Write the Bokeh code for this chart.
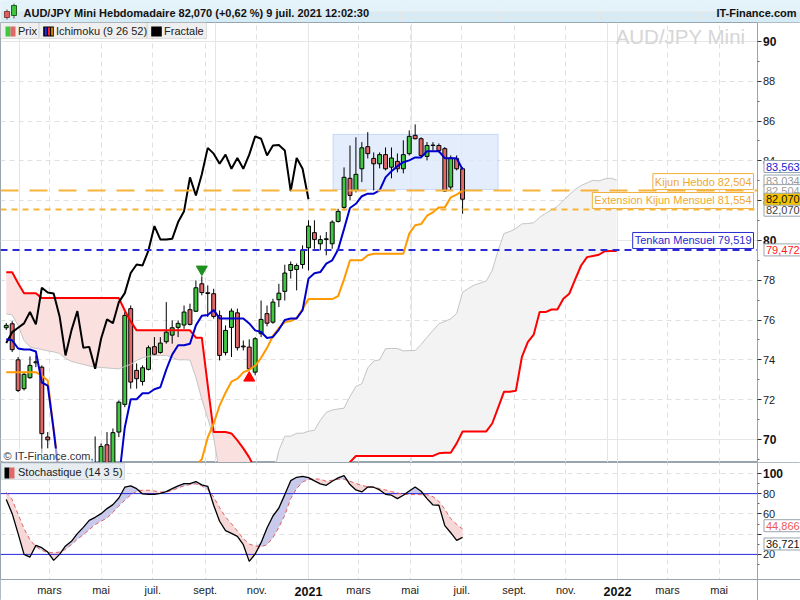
import numpy as np
import pandas as pd
from bokeh.plotting import figure
from bokeh.layouts import column
from bokeh.models import Range1d, FixedTicker, Grid, Label, BoxAnnotation, ColumnDataSource
from bokeh.core.properties import value
from bokeh.embed import file_html
from bokeh.resources import INLINE

FONT = "Liberation Sans"

# ---------------- texts ----------------
title_text = "AUD/JPY Mini Hebdomadaire 82,070 (+0,62 %) 9 juil. 2021 12:02:30"
site_text = "IT-Finance.com"
watermark_text = "AUD/JPY Mini"
copyright_text = "\u00a9 IT-Finance.com,"
legend_main = ["Prix", "Ichimoku (9 26 52)", "Fractale"]
legend_stoch = "Stochastique (14 3 5)"

# ---------------- weekly candles (AUD/JPY) ----------------
first_week = "2020-01-10"
opens = [75.61, 75.81, 74.00, 72.55, 73.10, 73.85, 73.63, 70.12, 68.70, 66.50,
         62.30, 66.00, 65.00, 68.30, 68.50, 68.40, 68.50, 69.73, 68.70, 70.37,
         71.76, 76.57, 73.47, 72.91, 73.52, 74.66, 74.37, 74.91, 75.24, 75.63,
         75.75, 76.52, 76.44, 77.82, 77.37, 77.32, 76.22, 74.36, 75.63, 76.36,
         74.69, 74.64, 73.38, 75.31, 76.32, 75.89, 77.02, 77.44, 78.49, 78.54,
         78.79, 79.63, 80.39, 79.83, 80.05, 79.83, 80.95, 81.66, 83.12, 82.51,
         83.60, 84.71, 84.12, 83.85, 84.31, 83.68, 83.97, 83.60, 84.36, 85.28,
         85.11, 84.22, 84.77, 84.77, 84.61, 82.68, 84.11, 83.60]
highs = [75.85, 75.94, 74.14, 73.38, 74.17, 74.22, 73.72, 70.37, 68.85, 68.00,
         67.00, 66.80, 68.80, 68.80, 68.80, 70.15, 69.80, 70.37, 70.55, 71.96,
         76.40, 76.73, 73.82, 73.72, 74.72, 75.14, 75.14, 76.90, 75.98, 75.98,
         76.73, 76.82, 77.99, 78.19, 77.74, 77.57, 76.48, 75.73, 76.58, 76.57,
         74.97, 75.03, 75.14, 76.98, 76.73, 77.07, 77.82, 78.78, 78.94, 78.84,
         79.75, 81.01, 81.01, 80.25, 80.42, 81.01, 81.59, 83.67, 84.77, 85.18,
         84.94, 85.44, 84.42, 84.42, 84.67, 84.67, 84.37, 85.03, 85.53, 85.83,
         85.18, 84.94, 84.94, 84.87, 84.69, 84.27, 84.27, 83.68]
lows = [75.50, 74.39, 72.38, 72.46, 73.05, 73.63, 69.30, 69.55, 65.00, 59.90,
        61.50, 64.00, 64.80, 67.50, 67.30, 67.90, 67.90, 68.30, 68.50, 70.12,
        71.62, 72.55, 72.55, 72.71, 73.47, 74.22, 74.31, 74.81, 74.81, 75.14,
        75.56, 75.73, 76.40, 77.24, 76.15, 76.07, 73.97, 74.22, 74.14, 74.47,
        74.47, 73.47, 73.22, 75.14, 75.68, 75.81, 76.65, 76.98, 78.08, 77.49,
        78.58, 78.49, 79.58, 79.50, 79.25, 79.58, 80.90, 81.51, 82.01, 82.41,
        82.93, 84.12, 82.51, 83.62, 83.52, 83.12, 83.42, 83.37, 84.27, 85.08,
        84.17, 84.02, 84.52, 84.42, 82.43, 82.51, 83.52, 81.34]
closes = [75.73, 74.51, 72.46, 73.27, 73.72, 73.90, 70.29, 69.98, 66.90, 62.50,
          66.30, 65.20, 68.30, 68.50, 67.80, 68.50, 69.65, 68.60, 70.34, 71.87,
          76.23, 72.88, 73.05, 73.60, 74.61, 74.28, 74.84, 75.39, 75.61, 75.83,
          76.40, 75.78, 77.62, 77.38, 77.33, 76.18, 74.22, 75.48, 76.45, 74.61,
          74.65, 73.55, 75.06, 76.03, 75.84, 76.90, 77.35, 78.36, 78.79, 78.74,
          79.50, 80.72, 80.05, 80.04, 80.08, 80.92, 81.46, 83.17, 82.26, 83.32,
          84.65, 84.36, 83.85, 84.31, 83.60, 84.14, 83.60, 84.31, 85.23, 85.11,
          84.27, 84.77, 84.79, 84.52, 82.48, 84.14, 83.60, 82.07]

# ---------------- Ichimoku (9 26 52) ----------------
tenkan = [75.03, 74.98, 74.57, 74.52, 74.52, 74.42, 72.86, 72.70, 70.47, 67.92,
          67.06, 67.06, 67.06, 67.06, 66.81, 65.14, 65.03, 65.14, 66.03, 67.98,
          70.60, 72.02, 72.02, 72.32, 72.32, 72.52, 72.62, 73.51, 74.26, 74.73,
          74.73, 74.81, 75.73, 76.21, 76.25, 76.50, 76.08, 76.08, 76.08, 76.08,
          76.08, 75.83, 75.48, 75.40, 75.10, 75.15, 75.52, 76.00, 76.08, 76.08,
          76.49, 78.08, 78.35, 78.41, 78.83, 79.00, 79.54, 80.58, 81.63, 81.84,
          82.22, 82.35, 82.35, 82.51, 83.17, 83.48, 83.73, 83.93, 84.02, 84.17,
          84.17, 84.48, 84.48, 84.48, 84.13, 84.13, 84.13, 83.56]
kijun = [73.38, 73.38, 73.38, 73.38, 73.38, 73.38, 73.20, 72.96, 70.50, 68.20,
         68.20, 68.20, 68.20, 68.20, 68.20, 68.20, 68.20, 68.20, 68.20, 68.20,
         68.30, 68.30, 68.30, 68.30, 68.30, 68.30, 68.30, 68.40, 68.40, 68.40,
         68.40, 68.40, 68.70, 69.00, 70.10, 70.80, 71.70, 72.35, 72.90, 73.05,
         73.37, 73.50, 73.70, 74.10, 74.60, 75.20, 75.60, 75.90, 75.95, 76.10,
         76.55, 77.05, 77.05, 77.05, 77.05, 77.05, 77.20, 78.04, 79.00, 79.00,
         79.00, 79.25, 79.33, 79.33, 79.33, 79.33, 79.33, 79.33, 80.34, 80.76,
         80.82, 81.24, 81.41, 81.66, 81.66, 82.16, 82.30, 82.50]
senkou_a = [76.31, 76.26, 75.73, 74.97, 74.65, 74.57, 74.52, 74.45, 74.40, 74.32,
            74.07, 73.92, 73.84, 73.77, 73.69, 73.63, 73.62, 73.59, 73.57, 73.54,
            73.67, 73.77, 73.97, 74.10, 74.17, 74.22, 74.22, 74.22, 74.12, 74.00,
            74.00, 73.99, 73.12, 72.01, 71.06, 70.10, 68.30, 67.60, 67.60, 67.60,
            67.50, 66.70, 66.60, 66.60, 67.20, 68.10, 69.45, 70.16, 70.16, 70.31,
            70.31, 70.41, 70.46, 70.96, 71.36, 71.48, 71.53, 71.57, 72.16, 72.66,
            72.80, 73.59, 73.94, 74.00, 74.56, 74.57, 74.57, 74.45, 74.46, 74.47,
            74.77, 75.13, 75.48, 75.81, 75.93, 76.06, 76.33, 77.39, 77.59, 77.76,
            77.86, 77.96, 78.49, 79.50, 80.35, 80.45, 80.60, 80.83, 80.85, 80.89,
            81.16, 81.36, 81.53, 81.71, 82.01, 82.29, 82.56, 82.76, 82.89, 83.02,
            82.99, 83.09, 83.13, 83.03]
senkou_b = [78.40, 78.40, 77.85, 77.35, 77.35, 77.35, 77.10, 77.10, 77.10, 77.10,
            77.10, 77.10, 77.10, 77.10, 77.10, 77.10, 77.10, 77.10, 77.10, 77.10,
            76.48, 75.93, 75.48, 75.48, 75.48, 75.48, 75.48, 75.48, 75.48, 75.48,
            75.48, 75.48, 75.11, 75.11, 72.71, 70.37, 70.37, 70.37, 70.30, 69.95,
            69.55, 69.10, 68.50, 68.50, 68.50, 68.50, 68.50, 68.50, 68.50, 68.50,
            68.50, 68.50, 68.50, 68.50, 68.50, 68.50, 68.50, 68.50, 68.86, 69.17,
            69.17, 69.17, 69.17, 69.17, 69.17, 69.17, 69.17, 69.17, 69.17, 69.17,
            69.17, 69.17, 69.17, 69.30, 69.33, 69.33, 69.80, 70.40, 70.40, 70.40,
            70.40, 70.40, 70.80, 71.60, 72.40, 72.40, 72.45, 74.13, 74.89, 75.26,
            76.40, 76.40, 76.53, 76.53, 77.07, 77.32, 78.04, 78.74, 79.16, 79.22,
            79.28, 79.46, 79.47, 79.47]
chikou_shift = 26

# ---------------- Fractals ----------------
fractal_high_dates = ["2020-08-28"]
fractal_low_dates = ["2020-10-23"]

# ---------------- Stochastic (14 3 5) ----------------
stoch_k = [74.1, 60.2, 40.5, 20.0, 17.4, 28.9, 26.6, 22.3, 14.1, 20.0,
           28.3, 32.9, 40.5, 46.7, 53.6, 56.6, 60.2, 65.2, 69.1, 75.7,
           86.3, 87.6, 84.9, 79.7, 79.3, 79.3, 80.3, 82.0, 84.9, 87.6,
           89.9, 89.9, 91.9, 88.6, 87.2, 68.5, 52.7, 43.4, 40.8, 37.8,
           29.6, 13.1, 20.4, 31.6, 46.1, 57.9, 65.8, 79.0, 92.8, 96.1,
           97.1, 95.8, 92.5, 89.6, 88.2, 92.2, 95.5, 97.8, 88.9, 83.6,
           81.6, 86.6, 86.3, 83.6, 79.3, 78.4, 75.1, 78.4, 82.6, 86.6,
           82.3, 75.1, 68.8, 68.5, 48.4, 41.4, 33.9, 36.72]
stoch_d = [81.3, 74.1, 59.6, 45.4, 34.5, 27.6, 24.0, 21.7, 21.7, 22.3,
           25.0, 29.6, 34.9, 39.5, 44.4, 49.4, 52.7, 55.9, 61.5, 67.8,
           73.4, 78.7, 82.3, 83.3, 83.3, 82.6, 81.6, 81.6, 83.0, 85.6,
           87.6, 88.9, 89.6, 87.6, 84.0, 76.7, 66.2, 56.9, 50.3, 43.1,
           35.5, 30.2, 28.3, 27.6, 29.6, 36.5, 46.7, 58.6, 75.1, 84.9,
           91.5, 93.8, 94.5, 94.2, 92.2, 93.2, 94.2, 94.2, 92.2, 89.9,
           88.2, 86.6, 86.6, 84.9, 83.6, 82.0, 80.7, 79.3, 79.0, 79.0,
           79.0, 79.0, 77.0, 72.4, 64.5, 55.3, 49.7, 44.87]
stoch_levels = [20, 80]

# ---------------- levels / annotations ----------------
level_kijun_hebdo = 82.504
level_ext_kijun_mensuel = 81.554
level_tenkan_mensuel = 79.519
zone_start, zone_end = "2021-01-30", "2021-08-13"
zone_low, zone_high = 82.56, 85.33
last_tenkan, last_ssa, last_kijun, last_close, last_ssb = 83.563, 83.034, 82.504, 82.070, 79.472
last_k, last_d = 36.721, 44.866

# ---------------- axes ----------------
x_start, x_axis = "2020-01-03 04:48", "2022-06-14 18:00"
month_ticks = ["2020-03-01", "2020-05-01", "2020-07-01", "2020-09-01", "2020-11-01",
               "2021-01-01", "2021-03-01", "2021-05-01", "2021-07-01", "2021-09-01",
               "2021-11-01", "2022-01-01", "2022-03-01", "2022-05-01"]
month_labels = ["mars", "mai", "juil.", "sept.", "nov.", "2021", "mars", "mai",
                "juil.", "sept.", "nov.", "2022", "mars", "mai"]
year_ticks = ["2021-01-01", "2022-01-01"]
price_ticks = [70, 72, 74, 76, 78, 80, 82, 84, 86, 88, 90]
price_minor = [69, 71, 73, 75, 77, 79, 81, 83, 85, 87, 89, 91]
price_bold = [70, 80, 90]
price_range = (68.84, 90.95)
stoch_ticks = [20, 40, 60, 80, 100]
stoch_minor = [10, 30, 50, 70, 90]
stoch_hidden = [40, 100]
stoch_panel_bottom = -4.7
stoch_range = (-25.5, 110.7)


def ms(d):
    return pd.Timestamp(d).value / 1e6


week_ms = [ms(d) for d in pd.date_range(first_week, periods=len(closes), freq="7D")]
cloud_ms = [ms(d) for d in pd.date_range(first_week, periods=len(senkou_a), freq="7D")]
tick_ms = [ms(d) for d in month_ticks]
year_ms = [ms(d) for d in year_ticks]
GREEN, RED = "#40c840", "#e06868"
GRID = "#e0e0e0"
FRAME = "#98a4ae"

W = 800
AX = 756.5            # axis position (px from left)
HH, MH, SH = 22, 440, 138
SBAND = 21            # x-axis label band at the bottom of the stochastic panel
XS = ms(x_start)
XA = ms(x_axis)
XE = XS + (XA - XS) * W / AX


def label(fig, text, x, y, xu="screen", yu="screen", size="11px", color="#222222",
          align="left", baseline="middle", bold=False, bg=None, border=None, pad=0,
          yoff=0, bg_alpha=1.0):
    fig.add_layout(Label(text=text, x=x, y=y, x_units=xu, y_units=yu, text_font=FONT,
                         text_font_size=size, text_color=color, text_align=align,
                         text_baseline=baseline, text_font_style="bold" if bold else "normal",
                         y_offset=yoff, background_fill_color=bg, background_fill_alpha=bg_alpha,
                         border_line_color=border, padding=pad))


def sbox(fig, l, r, b, t, fill, line=None, level="annotation"):
    fig.add_layout(BoxAnnotation(left=l, right=r, bottom=b, top=t, left_units="screen",
                                 right_units="screen", bottom_units="screen", top_units="screen",
                                 fill_color=fill, fill_alpha=1.0, line_color=line, line_width=1,
                                 level=level))


def style_axis(ax):
    ax.axis_line_color = FRAME
    ax.major_tick_line_color = "#333333"
    ax.minor_tick_line_color = "#666666"
    ax.major_tick_out = 4
    ax.major_tick_in = 0
    ax.minor_tick_out = 2
    ax.minor_tick_in = 0
    ax.major_label_standoff = 2
    ax.major_label_text_font = FONT
    ax.major_label_text_font_size = "11px"
    ax.major_label_text_color = "#222222"


def fr(v):
    return f"{v:.3f}".replace(".", ",")


# ================= header =================
h = figure(width=W, height=HH, x_range=Range1d(0, W), y_range=Range1d(0, HH),
           x_axis_location=None, y_axis_location=None, toolbar_location=None,
           output_backend="svg", min_border=0, outline_line_color=None,
           background_fill_color="#d5ebf6", border_fill_color="#d5ebf6")
h.quad(left=[0], right=[W], bottom=[11], top=[HH], fill_color="#e4f2fa", line_color=None)
h.segment(x0=[6.5, 13.5], y0=[3, 4], x1=[6.5, 13.5], y1=[13, 19], line_color="#555555")
h.quad(left=[4], right=[9], bottom=[5], top=[11], fill_color="#e06060", line_color="#804040")
h.quad(left=[11], right=[16], bottom=[7], top=[17], fill_color="#3fc43f", line_color="#206020")
h.text(x=[23], y=[9.5], text=[title_text], text_font=value(FONT), text_font_size="11px",
       text_font_style="bold", text_baseline="middle", text_color="#111111")
h.text(x=[W - 4], y=[9.5], text=[site_text], text_font=value(FONT), text_font_size="11px",
       text_font_style="bold", text_baseline="middle", text_align="right", text_color="#111111")

# ================= main price panel =================
p = figure(width=W, height=MH, x_range=Range1d(XS, XE), y_range=Range1d(*price_range),
           x_axis_location=None, y_axis_location="right", toolbar_location=None,
           output_backend="svg", min_border=0, background_fill_color="white",
           border_fill_color="white", outline_line_color=FRAME)

ya = p.yaxis[0]
ya.fixed_location = XA
ya.ticker = FixedTicker(ticks=price_ticks, minor_ticks=price_minor)
ya.major_label_overrides = {t: "" for t in price_bold}
style_axis(ya)

p.ygrid[0].ticker = FixedTicker(ticks=[t for t in price_ticks if t not in price_bold])
p.ygrid[0].grid_line_color = GRID
p.ygrid[0].grid_line_dash = "5 4"
p.add_layout(Grid(dimension=1, ticker=FixedTicker(ticks=price_bold), grid_line_color="#e6e6e6"))
p.add_layout(Grid(dimension=0, ticker=FixedTicker(ticks=[t for t in tick_ms if t not in year_ms]),
                  grid_line_color=GRID, grid_line_dash="5 4"))
p.add_layout(Grid(dimension=0, ticker=FixedTicker(ticks=year_ms), grid_line_color="#e6e6e6"))
sbox(p, AX, W, 0, MH, "white", level="underlay")

# zone rectangle
p.add_layout(BoxAnnotation(left=ms(zone_start), right=ms(zone_end), bottom=zone_low, top=zone_high,
                           fill_color="#dde8fb", fill_alpha=0.8, line_color="#6e9df0",
                           line_width=1, level="underlay"))

# kumo
sa = np.array(senkou_a)
sb = np.array(senkou_b)
hi = np.maximum(sa, sb)
p.varea(x=cloud_ms, y1=sa, y2=hi, fill_color="#fbe0e0")
p.varea(x=cloud_ms, y1=sb, y2=hi, fill_color="#f3f3f3")

# candles
src = ColumnDataSource(dict(
    x=week_ms, high=highs, low=lows,
    top=[max(o, c) for o, c in zip(opens, closes)],
    bottom=[min(o, c) for o, c in zip(opens, closes)],
    color=[GREEN if c >= o else RED for o, c in zip(opens, closes)]))
p.segment(x0="x", y0="low", x1="x", y1="high", source=src, line_color="black", line_width=1)
p.vbar(x="x", width=4.6 * 86400000, top="top", bottom="bottom", fill_color="color",
       line_color="black", line_width=1, source=src)

# ichimoku lines
p.line(cloud_ms, senkou_a, line_color="#c4c4c4", line_width=1)
p.line(cloud_ms, senkou_b, line_color="#ff0000", line_width=2)
p.line(week_ms[:len(closes) - chikou_shift], closes[chikou_shift:], line_color="black", line_width=2)
p.line(week_ms, kijun, line_color="#ff9a00", line_width=2)
p.line(week_ms, tenkan, line_color="#0000cc", line_width=2)

# fractals
fh_x = [ms(d) for d in fractal_high_dates]
fh_y = [highs[week_ms.index(x)] + 0.36 for x in fh_x]
fl_x = [ms(d) for d in fractal_low_dates]
fl_y = [lows[week_ms.index(x)] - 0.38 for x in fl_x]
p.scatter(fh_x, fh_y, marker="inverted_triangle", size=11, fill_color="#1f8f1f", line_color="#1f8f1f")
p.scatter(fl_x, fl_y, marker="triangle", size=11, fill_color="#ff0000", line_color="#ff0000")

# horizontal levels (stop at the price axis)
p.segment(x0=[XS], y0=[level_kijun_hebdo], x1=[XA], y1=[level_kijun_hebdo],
          line_color="#f7b43c", line_width=2, line_dash="18 11")
p.segment(x0=[XS], y0=[level_ext_kijun_mensuel], x1=[XA], y1=[level_ext_kijun_mensuel],
          line_color="#f7b43c", line_width=2, line_dash="6 5")
p.segment(x0=[XS], y0=[level_tenkan_mensuel], x1=[XA], y1=[level_tenkan_mensuel],
          line_color="#2a2ad6", line_width=2, line_dash="7 5")

label(p, f"Kijun Hebdo {fr(level_kijun_hebdo)}", AX - 3.5, level_kijun_hebdo, yu="data",
      color="#f0a830", align="right", bg="white", border="#f0b040", pad=2, yoff=9)
label(p, f"Extension Kijun Mensuel {fr(level_ext_kijun_mensuel)}", AX - 3.5, level_ext_kijun_mensuel,
      yu="data", color="#f0a830", align="right", bg="white", border="#f0b040", pad=2, yoff=9)
label(p, f"Tenkan Mensuel {fr(level_tenkan_mensuel)}", AX - 3.5, level_tenkan_mensuel, yu="data",
      color="#2a2ad0", align="right", bg="white", border="#2a2ad0", pad=2, yoff=9.5)

# watermark, copyright
label(p, watermark_text, 745, MH - 14, size="20.5px", color="#d6d6d6", align="right")
label(p, copyright_text, 2, 7, color="#333333", bg="white", bg_alpha=0.6, pad=1)

# legend boxes
top, bot = MH, MH - 16
sbox(p, 0, 38, bot, top, "#efefef", "#a8a8a8")
sbox(p, 39, 146, bot, top, "#efefef", "#a8a8a8")
sbox(p, 147, 206, bot, top, "#efefef", "#a8a8a8")
it, ib = MH - 4, MH - 14
sbox(p, 5, 10, ib, it, GREEN)
sbox(p, 10, 15, ib, it, RED)
sbox(p, 42.7, 53.3, ib, it, "black")
sbox(p, 44.3, 46.3, ib + 1, it - 1, "#2a2aff")
sbox(p, 47.5, 49.5, ib + 1, it - 1, "#ff2020")
sbox(p, 50.7, 52.3, ib + 1, it - 1, "#ff9a00")
sbox(p, 150.7, 161.3, ib, it, "black")
label(p, legend_main[0], 17.5, MH - 8.5)
label(p, legend_main[1], 55.5, MH - 8.5)
label(p, legend_main[2], 163.5, MH - 8.5)

# bold axis labels
for t in price_bold:
    label(p, str(t), AX + 6, t, yu="data", size="12px", bold=True, color="#111111")

# axis value boxes
label(p, fr(last_tenkan), AX + 7, last_tenkan, yu="data", color="#2020d0", bg="white", border=FRAME, pad=2, yoff=3)
label(p, fr(last_ssa), AX + 7, last_ssa, yu="data", color="#999999", bg="white", border=FRAME, pad=2, yoff=-1)
label(p, fr(last_kijun), AX + 7, last_kijun, yu="data", color="#a0a0a0", bg="white", border=FRAME, pad=2, yoff=0)
label(p, fr(last_close), AX + 7, last_close, yu="data", color="#444444", bg="white", border=FRAME, pad=2, yoff=-11)
label(p, fr(last_close), AX + 7, last_close, yu="data", color="#111111", bg="#f5c400", border=FRAME, pad=2, yoff=0)
label(p, fr(last_ssb), AX + 7, last_ssb, yu="data", color="#ff2020", bg="white", border=FRAME, pad=2, yoff=1)

# ================= stochastic panel =================
s = figure(width=W, height=SH, x_range=p.x_range, y_range=Range1d(*stoch_range),
           y_axis_location="right", x_axis_location="below", toolbar_location=None,
           output_backend="svg", min_border=0, background_fill_color="white",
           border_fill_color="white", outline_line_color=FRAME)
sy = s.yaxis[0]
sy.fixed_location = XA
sy.ticker = FixedTicker(ticks=stoch_ticks, minor_ticks=stoch_minor)
sy.major_label_overrides = {t: "" for t in stoch_hidden}
style_axis(sy)

sx = s.xaxis[0]
sx.fixed_location = stoch_panel_bottom
sx.ticker = FixedTicker(ticks=tick_ms)
sx.major_label_overrides = {t: ("" if t in year_ms else lab) for t, lab in zip(tick_ms, month_labels)}
style_axis(sx)
sx.major_tick_line_color = None
sx.minor_tick_line_color = None
sx.major_tick_out = 0
sx.major_label_standoff = 5

s.ygrid[0].ticker = FixedTicker(ticks=[40, 60, 100])
s.ygrid[0].grid_line_color = GRID
s.ygrid[0].grid_line_dash = "5 4"
s.xgrid[0].ticker = FixedTicker(ticks=[t for t in tick_ms if t not in year_ms])
s.xgrid[0].grid_line_color = GRID
s.xgrid[0].grid_line_dash = "5 4"
s.add_layout(Grid(dimension=0, ticker=FixedTicker(ticks=year_ms), grid_line_color="#e6e6e6"))
sbox(s, AX, W, 0, SH, "white", level="underlay")
sbox(s, 0, W, 0, SBAND, "white", level="underlay")

kk = np.array(stoch_k)
dd = np.array(stoch_d)
s.varea(x=week_ms, y1=dd, y2=np.maximum(kk, dd), fill_color="#c9c9ec")
s.varea(x=week_ms, y1=np.minimum(kk, dd), y2=dd, fill_color="#f7d8d8")
s.segment(x0=[XS] * len(stoch_levels), y0=stoch_levels, x1=[XA] * len(stoch_levels), y1=stoch_levels,
          line_color="#2828e0", line_width=1)
s.line(week_ms, stoch_d, line_color="#e06060", line_width=1, line_dash="4 3")
s.line(week_ms, stoch_k, line_color="black", line_width=1.3)

sbox(s, 1, 124, SH - 17, SH - 1, "#e6ecf0", FRAME)
sbox(s, 4, 9, SH - 16, SH - 5, "black")
sbox(s, 9, 14, SH - 16, SH - 5, RED)
label(s, legend_stoch, 17.5, SH - 9.5)

label(s, "100", AX + 6, 100, yu="data", size="12px", bold=True, color="#111111")
label(s, fr(last_d), AX + 7, last_d, yu="data", color="#e85a5a", bg="white", border=FRAME, pad=2, yoff=3.5)
label(s, fr(last_k), AX + 7, last_k, yu="data", color="#111111", bg="white", border=FRAME, pad=2, yoff=-6.5)
for t, txt in zip(tick_ms, month_labels):
    if t in year_ms:
        label(s, txt, t, 9, xu="data", size="12.5px", bold=True, color="#111111", align="center")

layout = column(h, p, s)
open("out.html", "w").write(file_html(layout, INLINE))
